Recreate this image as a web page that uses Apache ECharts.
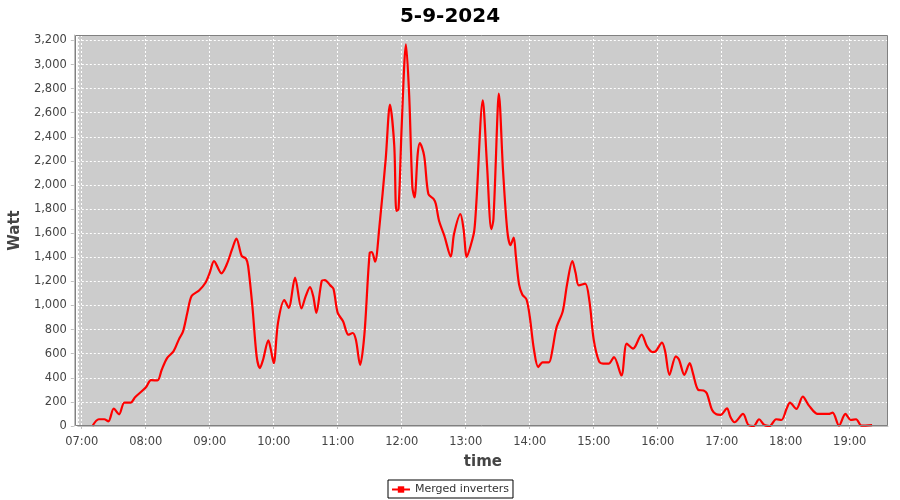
<!DOCTYPE html>
<html>
<head>
<meta charset="utf-8">
<script src="https://cdn.jsdelivr.net/npm/echarts@6/dist/echarts.min.js"></script>
<style>html,body{margin:0;padding:0;background:#fff;}#c{width:900px;height:500px;}</style>
</head>
<body>
<div id="c"></div>
<script>
const chartTitle = '5-9-2024';
const seriesName = 'Merged inverters';
const times = ['07:10','07:16','07:21','07:25','07:30','07:35','07:40','07:46','07:50','08:00','08:05','08:11','08:15','08:20','08:26','08:31','08:35','08:39','08:43','08:50','08:56','09:00','09:04','09:11','09:16','09:21','09:25','09:30','09:34','09:36','09:40','09:44','09:47','09:50','09:55','09:57','10:00','10:04','10:10','10:14','10:20','10:26','10:30','10:34','10:37','10:40','10:45','10:48','10:53','10:56','11:00','11:05','11:10','11:14','11:17','11:21','11:25','11:30','11:32','11:35','11:39','11:45','11:49','11:53','11:55','11:57','12:00','12:04','12:07','12:10','12:12','12:15','12:17','12:21','12:25','12:30','12:32','12:35','12:40','12:46','12:49','12:55','12:58','13:01','13:05','13:08','13:10','13:16','13:20','13:24','13:26','13:30','13:31','13:35','13:39','13:42','13:45','13:47','13:50','13:53','13:57','14:00','14:04','14:08','14:12','14:18','14:21','14:25','14:31','14:35','14:40','14:43','14:46','14:52','14:56','15:00','15:05','15:09','15:14','15:19','15:26','15:31','15:37','15:39','15:45','15:50','15:55','15:58','16:04','16:07','16:11','16:17','16:20','16:25','16:30','16:33','16:38','16:43','16:46','16:51','16:55','16:59','17:05','17:08','17:12','17:20','17:25','17:30','17:35','17:40','17:45','17:51','17:56','18:01','18:04','18:10','18:16','18:22','18:30','18:40','18:44','18:50','18:56','19:01','19:06','19:11','19:21'];
const watts = [0,56,56,39,144,97,194,194,239,319,380,378,467,564,619,717,786,939,1078,1125,1189,1272,1369,1267,1342,1467,1556,1411,1389,1328,994,578,481,550,711,647,522,856,1044,981,1231,975,1078,1153,1078,939,1203,1211,1167,1139,939,869,758,772,717,508,758,1439,1444,1364,1647,2217,2667,2328,1786,1800,2494,3167,2744,1981,1897,2258,2347,2244,1925,1883,1842,1703,1578,1406,1592,1758,1633,1403,1508,1619,1856,2703,2161,1633,1717,2633,2758,2119,1619,1500,1564,1411,1175,1092,1050,911,633,489,528,528,619,814,953,1175,1369,1272,1167,1181,1036,717,536,517,517,572,419,683,642,661,758,661,614,619,692,619,425,578,550,425,522,439,300,294,272,133,97,92,147,78,31,100,8,0,56,8,0,56,50,147,194,142,244,167,100,100,111,3,100,50,56,3,8];
const axisStart = '06:56:20';
const axisEnd = '19:35:55';

function ts(s){const p=s.split(':').map(Number);return Date.UTC(2024,8,5,p[0],p[1],p[2]||0);}
const data = times.map((t,i)=>[ts(t), watts[i]]);
const F = 'DejaVu Sans';
const G = {left: 75, right: 12, top: 35, bottom: 74};
const chart = echarts.init(document.getElementById('c'), null, {renderer:'canvas'});
chart.setOption({
  useUTC: true,
  animation: false,
  backgroundColor: '#ffffff',
  title: {text: chartTitle, left: 'center', top: 2, textStyle: {fontFamily: F, fontSize: 20, fontWeight: 'bold', color: '#000'}},
  grid: Object.assign({show: true, backgroundColor: '#cccccc', borderColor: '#808080', borderWidth: 0, containLabel: false}, G),
  graphic: [{type: 'rect', z: 100, silent: true,
    shape: {x: G.left + 0.5, y: G.top + 0.5, width: 900 - G.left - G.right - 1, height: 500 - G.top - G.bottom - 1},
    style: {fill: null, stroke: '#808080', lineWidth: 1}}],
  legend: {bottom: 2, left: 'center', data: [seriesName], borderColor: '#000', borderWidth: 1, borderRadius: 0, padding: [4,4,3,3], itemWidth: 18, itemHeight: 8, itemGap: 4,
    textStyle: {fontFamily: F, fontSize: 11, color: '#333'}},
  xAxis: {type: 'time', min: ts(axisStart), max: ts(axisEnd), offset: 4,
    minInterval: 3600000, maxInterval: 3600000,
    name: 'time', nameLocation: 'middle', nameGap: 25, nameTextStyle: {fontFamily: F, fontSize: 15, fontWeight: 'bold', color: '#444'},
    axisLine: {show: true, lineStyle: {color: '#c0c0c0', width: 1}},
    axisTick: {show: true, length: 3, lineStyle: {color: '#c0c0c0'}},
    axisLabel: {formatter: '{HH}:{mm}', fontFamily: F, fontSize: 11.5, color: '#444', margin: 6, showMinLabel: false, showMaxLabel: false, hideOverlap: false},
    splitLine: {show: true, lineStyle: {color: '#ffffff', type: [2,2], width: 1}}},
  yAxis: {type: 'value', min: 0, max: 3245, interval: 200, offset: 4,
    name: 'Watt', nameLocation: 'middle', nameGap: 42, nameRotate: 90, nameTextStyle: {fontFamily: F, fontSize: 15, fontWeight: 'bold', color: '#444'},
    axisLine: {show: true, lineStyle: {color: '#c0c0c0', width: 1}},
    axisTick: {show: true, length: 3, lineStyle: {color: '#c0c0c0'}},
    axisLabel: {fontFamily: F, fontSize: 11.5, color: '#444', margin: 7, showMaxLabel: false,
      formatter: v => v.toLocaleString('en-US')},
    splitLine: {show: true, lineStyle: {color: '#ffffff', type: [2,2], width: 1}}},
  series: [{name: seriesName, type: 'line', data: data, smooth: 0.3, showSymbol: false, symbol: 'rect', symbolSize: 3,
    lineStyle: {color: '#ff0000', width: 2.2}, itemStyle: {color: '#ff0000'}, clip: true}]
});
</script>
</body>
</html>
